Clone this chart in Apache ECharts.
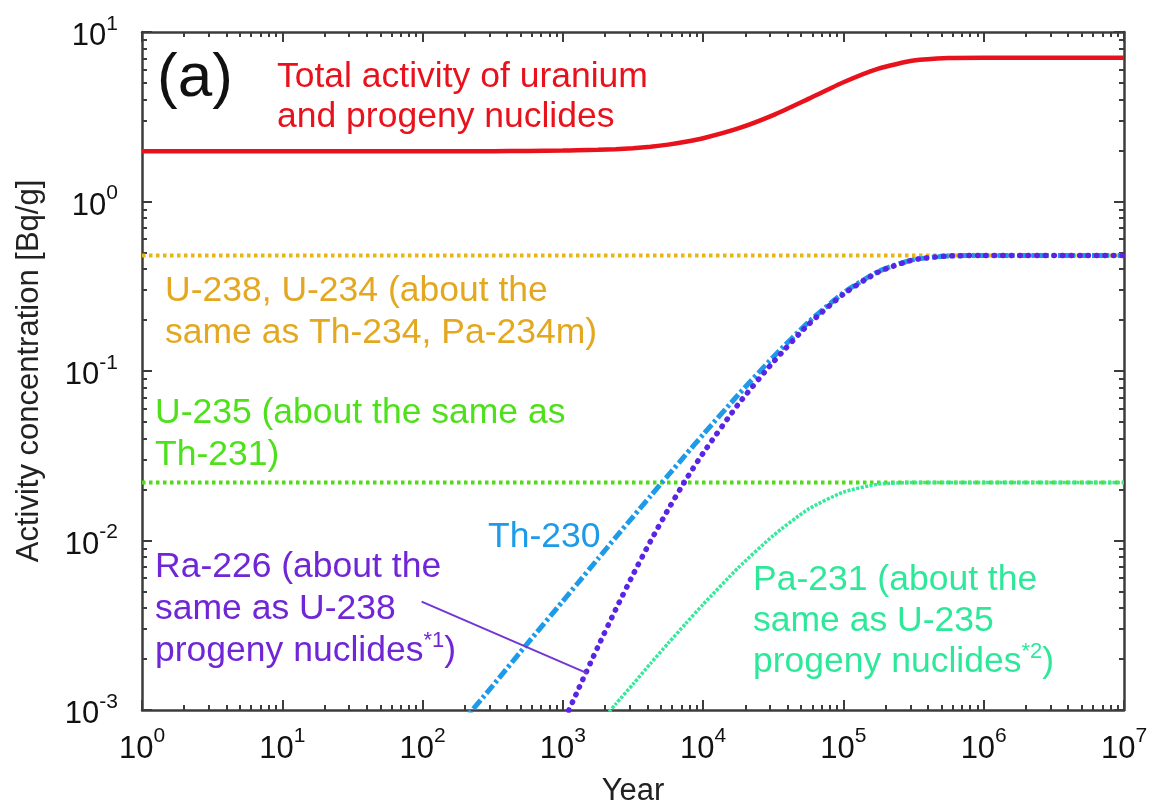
<!DOCTYPE html>
<html><head><meta charset="utf-8">
<script src="https://cdn.jsdelivr.net/npm/echarts@6/dist/echarts.min.js"></script>
<style>html,body{margin:0;padding:0;background:#fff}#c{width:1156px;height:812px}</style>
</head><body><div id="c"></div>
<script>
// ---- data ----
const years = [1, 10, 100, 178, 316, 562, 1000, 1259, 1778, 2371, 3162, 4217, 5623, 7499, 10000, 17783, 31623, 56234, 100000, 177828, 316228, 562341, 1000000, 10000000];
const totalActivity = [1.98, 1.98, 1.981, 1.981, 1.982, 1.986, 1.996, 2.004, 2.017, 2.036, 2.064, 2.106, 2.165, 2.249, 2.361, 2.699, 3.235, 4.031, 5.051, 6.079, 6.781, 7.025, 7.054, 7.055];
const th230 = [null, null, 0.00044, 0.00079, 0.00139, 0.00248, 0.00439, 0.00552, 0.00779, 0.0104, 0.0138, 0.0183, 0.0242, 0.0320, 0.0422, 0.0724, 0.121, 0.194, 0.289, 0.387, 0.454, 0.477, 0.480, 0.480];
const ra226 = [null, null, null, null, null, 0.00028, 0.00083, 0.00127, 0.00236, 0.00389, 0.00629, 0.00992, 0.0152, 0.0227, 0.0328, 0.0636, 0.113, 0.188, 0.284, 0.384, 0.453, 0.477, 0.480, 0.480];
const pa231 = [null, null, null, null, null, null, 0.00046, 0.00058, 0.00081, 0.00108, 0.00142, 0.00188, 0.00247, 0.00323, 0.0042, 0.0069, 0.0107, 0.0153, 0.0193, 0.0215, 0.0220, 0.0220, 0.0220, 0.0220];
const flatYears = [1, 10000000];
const u238 = [0.48, 0.48];
const u235 = [0.022, 0.022];
const leaderYears = [98.5, 1486];
const leaderVals = [0.00436, 0.00165];
// tick labels (exponents of 10)
const xExponents = [0, 1, 2, 3, 4, 5, 6, 7];
const yExponents = [-3, -2, -1, 0, 1];

// ---- helpers ----
function pairs(xs, ys) {
  const out = [];
  xs.forEach((x, i) => { if (ys[i] !== null) out.push([x, ys[i]]); });
  return out;
}
const FONT = '"Liberation Sans", Arial, Helvetica, sans-serif';
const AX = '#3c3c3c';
const labelRich = {
  b: { fontSize: 31, fontFamily: FONT, color: '#111', lineHeight: 46 },
  s: { fontSize: 21, fontFamily: FONT, color: '#111', lineHeight: 19, verticalAlign: 'top' }
};
function expFormatter(list) {
  return function (v) {
    const e = Math.round(Math.log10(v));
    if (list.indexOf(e) < 0) return '';
    return '{b|10}{s|' + e + '}';
  };
}
const xMin = Math.pow(10, xExponents[0]), xMax = Math.pow(10, xExponents[xExponents.length - 1]);
const yMin = Math.pow(10, yExponents[0]), yMax = Math.pow(10, yExponents[yExponents.length - 1]);

function majorAxis(pos, showLabel, extra) {
  return Object.assign({
    type: 'log', logBase: 10, position: pos, gridIndex: 0,
    axisLine: { show: true, onZero: false, lineStyle: { color: AX, width: 2.5 } },
    axisTick: { show: true, inside: true, length: 10, lineStyle: { color: AX, width: 2 } },
    minorTick: { show: true, splitNumber: 9, length: 5, lineStyle: { color: AX, width: 2 } },
    axisLabel: { show: showLabel },
    splitLine: { show: false }, minorSplitLine: { show: false }
  }, extra);
}

const option = {
  animation: false,
  backgroundColor: '#fff',
  grid: { left: 142, right: 32, top: 32, bottom: 98, containLabel: false },
  xAxis: [
    majorAxis('bottom', true, {
      min: xMin, max: xMax,
      name: 'Year', nameLocation: 'middle', nameGap: 66,
      nameTextStyle: { fontSize: 31, fontFamily: FONT, color: '#222' },
      axisLabel: { show: true, margin: 16, formatter: expFormatter(xExponents), rich: labelRich, showMinLabel: true, showMaxLabel: true }
    }),
    majorAxis('top', false, { min: xMin, max: xMax })
  ],
  yAxis: [
    majorAxis('left', true, {
      min: yMin, max: yMax,
      name: 'Activity concentration [Bq/g]', nameLocation: 'middle', nameGap: 97, nameRotate: 90,
      nameTextStyle: { fontSize: 31, fontFamily: FONT, color: '#222' },
      axisLabel: { show: true, margin: 24, padding: [9, 0, 0, 0], formatter: expFormatter(yExponents), rich: labelRich, showMinLabel: true, showMaxLabel: true }
    }),
    majorAxis('right', false, { min: yMin, max: yMax })
  ],
  series: [
    { name: 'U-238, U-234', type: 'line', xAxisIndex: 0, yAxisIndex: 0, data: pairs(flatYears, u238), showSymbol: false, symbol: 'none',
      lineStyle: { color: '#eab412', width: 4, type: [3.5, 3.5] }, z: 2 },
    { name: 'U-235', type: 'line', xAxisIndex: 0, yAxisIndex: 0, data: pairs(flatYears, u235), showSymbol: false, symbol: 'none',
      lineStyle: { color: '#4fdc14', width: 4, type: [3.5, 3.5] }, z: 2 },
    { name: 'Total', type: 'line', xAxisIndex: 0, yAxisIndex: 0, data: pairs(years, totalActivity), showSymbol: false, symbol: 'none', smooth: 0.2,
      lineStyle: { color: '#e8121c', width: 4.5 }, z: 3 },
    { name: 'Th-230', type: 'line', xAxisIndex: 0, yAxisIndex: 0, data: pairs(years, th230), showSymbol: false, symbol: 'none', smooth: 0.2,
      lineStyle: { color: '#1e9be8', width: 5, type: [11, 3, 3, 3] }, z: 4 },
    { name: 'Ra-226', type: 'line', xAxisIndex: 0, yAxisIndex: 0, data: pairs(years, ra226), showSymbol: false, symbol: 'none', smooth: 0.2,
      lineStyle: { color: '#5a24e4', width: 5.5, type: [0.5, 8], cap: 'round' }, z: 5 },
    { name: 'Pa-231', type: 'line', xAxisIndex: 0, yAxisIndex: 0, data: pairs(years, pa231), showSymbol: false, symbol: 'none', smooth: 0.2,
      lineStyle: { color: '#34e89c', width: 3.5, type: [3, 1.5] }, z: 4 },
    { name: 'leader', type: 'line', xAxisIndex: 0, yAxisIndex: 0, data: pairs(leaderYears, leaderVals), showSymbol: false, symbol: 'none',
      lineStyle: { color: '#7436d2', width: 2 }, z: 6 }
  ],
  graphic: []
};

function note(x, y, text, color, size, rich) {
  const st = { text: text, fill: color, font: size + 'px ' + FONT, verticalAlign: 'middle', align: 'left' };
  if (rich) {
    st.rich = {
      n: { fontSize: size, fontFamily: FONT, fill: color, lineHeight: 42 },
      s: { fontSize: 22, fontFamily: FONT, fill: color, lineHeight: 33, verticalAlign: 'top' }
    };
  }
  option.graphic.push({ type: 'text', x: x, y: y, silent: true, z: 100, style: st });
}
const NS = 35.5;
note(157, 79, '(a)', '#111', 62);
note(277, 77, 'Total activity of uranium', '#e8121c', NS);
note(277, 117, 'and progeny nuclides', '#e8121c', NS);
note(165, 291, 'U-238, U-234 (about the', '#e3a820', NS);
note(165, 333, 'same as Th-234, Pa-234m)', '#e3a820', NS);
note(155, 413, 'U-235 (about the same as', '#4ee01a', NS);
note(155, 455, 'Th-231)', '#4ee01a', NS);
note(488, 537, 'Th-230', '#1e9be8', NS);
note(155, 567, 'Ra-226 (about the', '#7026d6', NS);
note(155, 609, 'same as U-238', '#7026d6', NS);
note(155, 651, '{n|progeny nuclides}{s|*1}{n|)}', '#7026d6', NS, true);
note(753, 580, 'Pa-231 (about the', '#2ee89a', NS);
note(753, 621, 'same as U-235', '#2ee89a', NS);
note(753, 662, '{n|progeny nuclides}{s|*2}{n|)}', '#2ee89a', NS, true);

const chart = echarts.init(document.getElementById('c'), null, { renderer: 'canvas' });
chart.setOption(option);
</script>
</body></html>
